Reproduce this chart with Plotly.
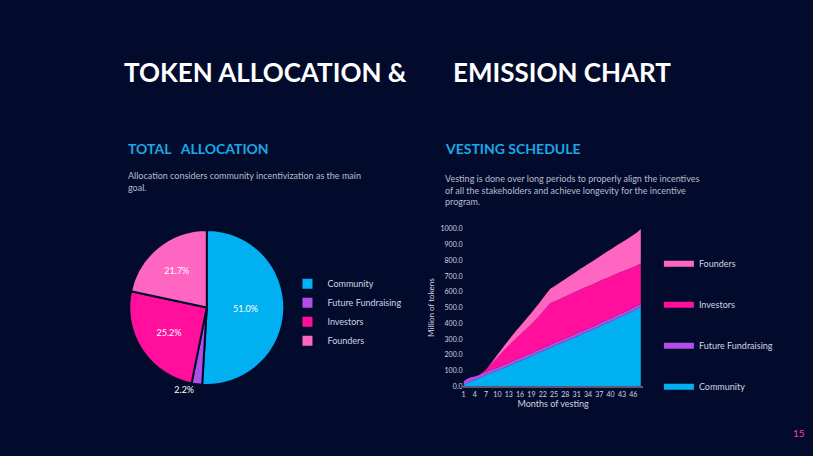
import plotly.graph_objects as go

# Daten
categories = ["Community", "Future Fundraising", "Investors", "Founders"]
allocation = [51.0, 2.2, 25.2, 21.7]
colors = ["#00b0f0", "#b24ee6", "#ff0f9c", "#ff66c2"]

months = list(range(1, 49))
community = [5, 20, 32, 40, 50, 62, 72, 82, 92, 100, 110, 120, 130, 140, 152, 162,
             172, 182, 192, 203, 213, 224, 235, 246, 256, 265, 275, 285, 296, 306,
             317, 328, 338, 348, 358, 368, 380, 392, 402, 412, 424, 436, 446, 456,
             468, 480, 492, 505]
future_fundraising = [25, 28, 25, 22, 20, 20, 20, 20, 20, 20, 20, 20, 20, 20, 20, 20,
                      20, 20, 20, 20, 20, 20, 20, 20, 20, 20, 20, 20, 20, 20, 20, 20,
                      20, 20, 20, 20, 20, 20, 20, 20, 20, 20, 20, 20, 20, 20, 20, 20]
investors = [0, 0, 0, 0, 0, 5, 15, 30, 45, 62, 78, 94, 108, 122, 134, 146,
             158, 170, 182, 196, 212, 228, 245, 262, 263, 264, 265, 266, 266, 267,
             267, 268, 268, 268, 268, 268, 268, 267, 267, 266, 265, 264, 263, 262,
             260, 258, 256, 255]
founders = [0, 0, 0, 0, 0, 0, 0, 5, 12, 18, 24, 30, 36, 42, 48, 54,
            60, 66, 72, 78, 82, 86, 90, 92, 96, 101, 106, 111, 116, 121,
            126, 131, 136, 141, 146, 151, 156, 161, 166, 171, 176, 181, 186, 192,
            198, 204, 210, 220]
series = [community, future_fundraising, investors, founders]

bg = "#020b2c"
font = "Lato"

fig = go.Figure()

fig.add_trace(go.Pie(labels=categories, values=allocation, sort=False, direction="clockwise",
                     rotation=0, marker=dict(colors=colors, line=dict(color=bg, width=2)),
                     texttemplate="%{value:.1f}%",
                     textposition=["inside", "outside", "inside", "inside"],
                     insidetextorientation="horizontal",
                     textfont=dict(color="white", size=9), domain=dict(x=[0.155, 0.35], y=[0.152, 0.498]),
                     legend="legend", hoverinfo="label+percent"))

# Founders oben in der Legende
for i, (name, vals, col) in enumerate(zip(categories, series, colors)):
    fig.add_trace(go.Scatter(x=months, y=vals, name=name, stackgroup="one", mode="none",
                             fillcolor=col, legendgroup=name, legend="legend2",
                             legendrank=1000 - i))

fig.update_layout(
    width=813, height=456, paper_bgcolor=bg, plot_bgcolor=bg,
    margin=dict(l=0, r=0, t=0, b=0),
    font=dict(family=font, color="#d0d4e0", size=7),
    xaxis=dict(domain=[0.569, 0.79], range=[1, 48.5], tickvals=list(range(1, 48, 3)), tickangle=0,
               showgrid=False, zeroline=False, showline=True, linecolor="#555a70", linewidth=2,
               title=dict(text="Months of vesting", font=dict(size=9), standoff=2), ticks=""),
    yaxis=dict(domain=[0.149, 0.5], range=[0, 1000], dtick=100, tickformat=".1f",
               showgrid=False, zeroline=False,
               title=dict(text="Million of tokens", font=dict(size=8), standoff=4)),
    legend=dict(x=0.352, y=0.41, yanchor="top", font=dict(size=9, color="#d0d4e0"),
                bgcolor="rgba(0,0,0,0)", tracegroupgap=0),
    legend2=dict(x=0.81, y=0.455, yanchor="top", font=dict(size=9, color="#d0d4e0"),
                 traceorder="grouped", tracegroupgap=22, bgcolor="rgba(0,0,0,0)"),
    showlegend=True,
)

def note(x, y, text, size, color, bold=False):
    fig.add_annotation(x=x / 813, y=1 - y / 456, xref="paper", yref="paper", text=text,
                       showarrow=False, xanchor="left", yanchor="middle", align="left",
                       font=dict(family=font, size=size, color=color,
                                 weight="bold" if bold else "normal"))

note(120, 68, "TOKEN ALLOCATION &", 26, "white", True)
note(450, 68, "EMISSION CHART", 26, "white", True)
note(124, 146, "TOTAL&nbsp;&nbsp;&nbsp;ALLOCATION", 14, "#1aa8e8", True)
note(442, 146, "VESTING SCHEDULE", 14, "#1aa8e8", True)
note(124, 180, "Allocation considers community incentivization as the main<br>goal.", 9, "#b8bccb")
note(442, 188, "Vesting is done over long periods to properly align the incentives<br>of all the stakeholders and achieve longevity for the incentive<br>program.", 9, "#b8bccb")
note(791, 436, "15", 10, "#ff3f9f")

fig.write_html("out.html", config={"displayModeBar": False},
               post_script="document.body.style.margin='0';document.body.style.background='%s';" % bg)
